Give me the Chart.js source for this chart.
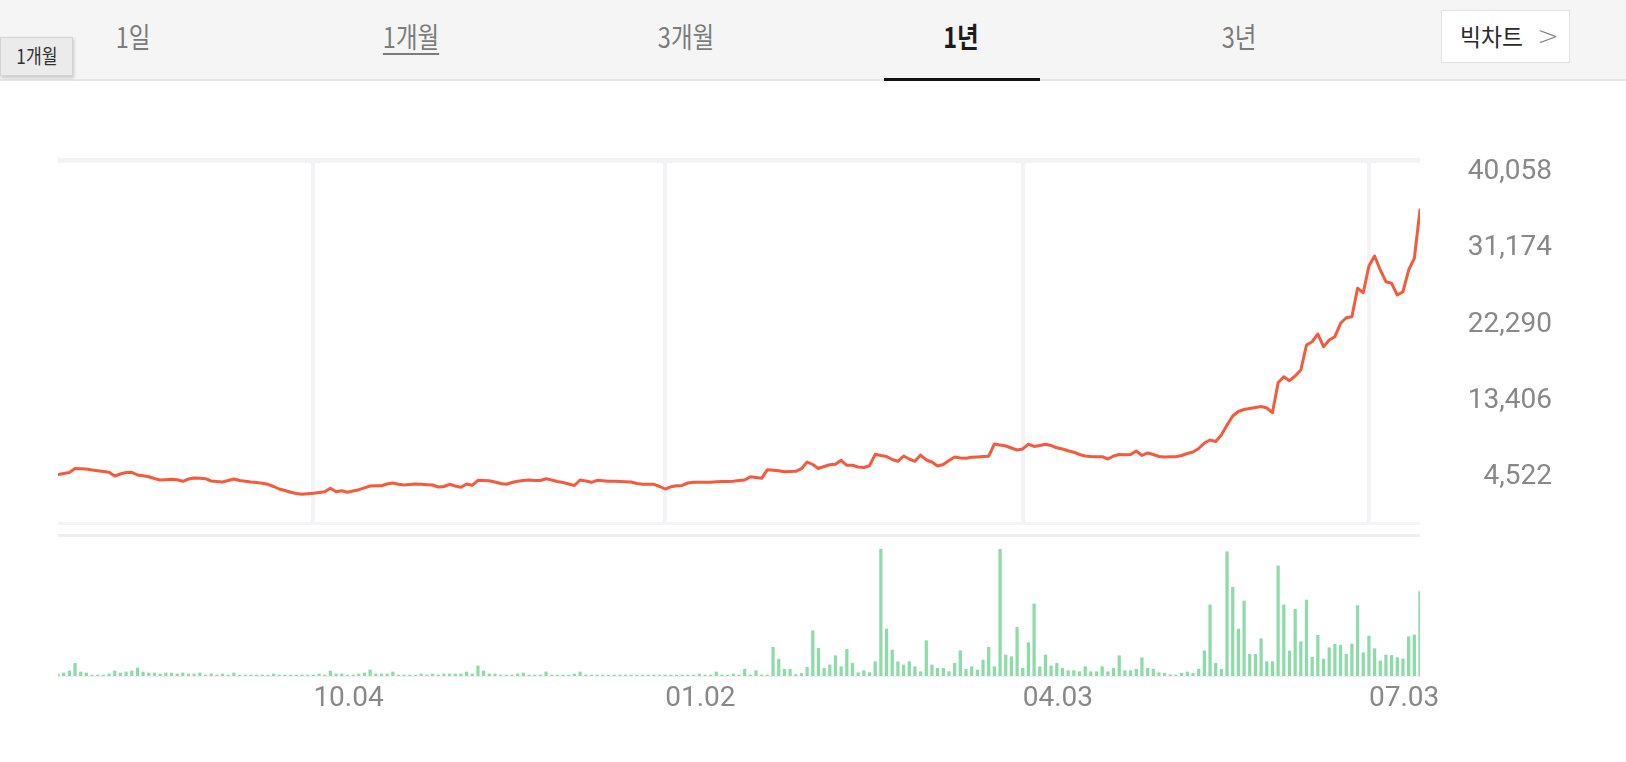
<!DOCTYPE html>
<html><head><meta charset="utf-8">
<script src="https://cdn.jsdelivr.net/npm/chart.js@4.4.1/dist/chart.umd.min.js"></script>
<style>
html,body{margin:0;padding:0;background:#fff;width:1626px;height:762px;overflow:hidden;font-family:'Noto Sans CJK KR','Noto Sans',sans-serif;}
#tabs{position:absolute;left:0;top:0;width:1626px;height:79px;background:#f5f5f5;border-bottom:2px solid #e6e6e6;}
.tab{position:absolute;top:14px;transform:translateX(-50%);font-size:28px;color:#7b7b7b;white-space:nowrap;line-height:44px;}
.tab span{display:inline-block;transform:scaleX(.84);}
.tab.u span{text-decoration:underline;text-underline-offset:5px;text-decoration-thickness:2px;}
.tab.on{color:#1c1c1c;font-weight:700;}
#bar{position:absolute;left:884px;top:78px;width:156px;height:3px;background:#111;}
#big{position:absolute;left:1441px;top:10px;width:129px;height:53px;background:#fff;border:1px solid #e2e2e2;box-sizing:border-box;}
#big .t{position:absolute;left:18px;top:6px;font-size:24px;line-height:38px;color:#2a2a2a;transform:scaleX(.95);transform-origin:left center;}
#big .c{position:absolute;left:95px;top:6px;font-size:26px;line-height:38px;color:#888;font-family:'DejaVu Sans',sans-serif;font-weight:300;}
#tip{position:absolute;left:0;top:37px;width:73px;height:39px;background:#ebebeb;border:1px solid #d3d3d3;box-sizing:border-box;box-shadow:1px 2px 3px rgba(0,0,0,.18);text-align:center;font-size:20px;line-height:36px;color:#333;}
#tip span{display:inline-block;transform:scaleX(.86);}
.ln{position:absolute;left:58px;width:1362px;}
canvas{position:absolute;left:0;}
</style>
</head><body>
<div id="tabs">
  <div class="tab" style="left:133px"><span>1일</span></div>
  <div class="tab u" style="left:411px"><span>1개월</span></div>
  <div class="tab" style="left:686px"><span>3개월</span></div>
  <div class="tab on" style="left:961px"><span>1년</span></div>
  <div class="tab" style="left:1239px"><span>3년</span></div>
  <div id="big"><div class="t">빅차트</div><div class="c">&gt;</div></div>
</div>
<div id="bar"></div>
<div id="tip"><span>1개월</span></div>
<div class="ln" style="top:158px;height:5px;background:#f3f3f5"></div>
<div class="ln" style="top:522px;height:3px;background:#f4f4f6"></div>
<div class="ln" style="top:534px;height:3px;background:#efeff1"></div>
<canvas id="price" width="1626" height="380" style="top:150px"></canvas>
<canvas id="vol" width="1626" height="200" style="top:530px"></canvas>
<script>
const xTickPositions = [45, 107, 170, 231];
const xTickLabels = ['10.04', '01.02', '04.03', '07.03'];
const yTickValues = [4522, 13406, 22290, 31174, 40058];

const price = [
4779,4896,5012,5479,5456,5421,5304,5222,5129,5036,
4604,4837,5012,5036,4720,4627,4522,4312,4137,4172,
4219,4160,3985,4253,4370,4335,4288,4020,3961,3903,
4078,4253,4078,3985,3903,3845,3751,3635,3378,3086,
2911,2701,2561,2467,2526,2584,2677,2759,3168,2771,
2888,2701,2853,3004,3226,3436,3460,3471,3670,3787,
3635,3553,3611,3670,3635,3588,3553,3320,3378,3635,
3436,3285,3670,3518,4102,4078,4055,3903,3728,3635,
3845,3985,4078,4137,4078,4078,4277,4137,3961,3845,
3670,3495,4137,4020,3868,4102,4043,3997,3985,3961,
3926,3903,3728,3635,3635,3635,3378,3086,3343,3471,
3506,3787,3868,3868,3868,3868,3926,3950,3973,3997,
4067,4137,4522,4429,4335,5339,5280,5222,5105,5129,
5152,5456,6238,5946,5479,5713,5911,5970,6437,5853,
5853,5654,5596,5806,7137,6997,6880,6530,6320,6938,
6588,6320,7055,6472,6238,5771,5946,6413,6822,6705,
6670,6787,6822,6869,6915,8339,8223,8106,7872,7639,
7756,8339,8048,8164,8316,8164,7896,7756,7557,7382,
7114,6938,6880,6857,6857,6588,6938,7114,7078,7114,
7522,6997,7289,7114,6880,6822,6845,6857,6997,7230,
7405,7814,8456,8806,8631,9390,10557,11608,12133,12367,
12484,12600,12717,12542,11993,15495,16196,15729,16278,16978,
19897,20282,21181,19698,20480,20866,22430,23084,23200,26515,
26002,29119,30286,28656,27286,27100,25734,26119,28652,30018,
35656
];

const volume = [
20,30,50,127,40,30,10,10,10,20,
50,30,40,50,80,40,30,30,20,30,
30,20,30,20,20,30,10,20,10,20,
10,30,10,10,10,10,10,10,20,10,
10,10,10,10,10,10,20,10,50,20,
20,10,10,20,30,60,20,20,20,40,
10,10,10,10,20,10,20,10,20,20,
20,20,40,20,100,50,20,20,10,10,
10,20,30,10,10,10,40,10,10,10,
10,20,40,10,10,10,10,10,10,10,
10,10,10,10,10,10,10,10,10,10,
10,10,10,20,10,10,40,10,10,20,
10,67,10,53,10,10,287,167,67,67,
15,27,87,453,277,77,110,203,93,267,
127,33,53,33,143,1267,470,260,143,110,
143,93,43,353,110,77,77,43,127,253,
67,93,60,160,287,93,1267,210,193,487,
77,333,720,93,210,100,127,77,53,53,
43,93,43,43,93,43,77,203,53,53,
67,183,77,67,33,27,13,10,27,40,
27,67,250,710,127,67,1243,887,470,750,
217,217,373,143,143,1100,710,250,667,343,
760,187,407,167,283,317,307,217,320,703,
233,400,273,150,210,207,183,170,393,410,
843
];

function build() {
  const mctx = document.createElement('canvas').getContext('2d');
  mctx.font = '28px Roboto';
  const widest = Math.max(...yTickValues.map(v => mctx.measureText(v.toLocaleString('en-US')).width));
  const yPad = 132 - widest;

  new Chart(document.getElementById('price'), {
    type: 'line',
    data: { datasets: [{
      data: price.map((v, i) => ({ x: i, y: v })),
      borderColor: '#f45a3b', borderWidth: 3, pointRadius: 0, tension: 0,
      borderJoinStyle: 'round', borderCapStyle: 'round'
    }] },
    options: {
      responsive: false, animation: false, events: [],
      layout: { padding: { left: 58, right: 74, top: 13, bottom: 6 } },
      plugins: { legend: { display: false }, tooltip: { enabled: false } },
      scales: {
        x: {
          type: 'linear', min: 0, max: 240,
          afterBuildTicks: s => { s.ticks = xTickPositions.map(v => ({ value: v })); },
          afterFit: s => { s.height = 0; s.paddingLeft = 0; s.paddingRight = 0; },
          ticks: { display: false },
          grid: { color: '#f3f3f5', lineWidth: 4, drawTicks: false },
          border: { display: false }
        },
        y: {
          position: 'right', min: -1000, max: 41144,
          afterBuildTicks: s => { s.ticks = yTickValues.map(v => ({ value: v })); },
          afterFit: s => { s.width = 132; s.paddingTop = 0; s.paddingBottom = 0; },
          grid: { display: false }, border: { display: false },
          ticks: {
            crossAlign: 'far', padding: yPad, color: '#888',
            font: { family: 'Roboto', size: 28 },
            callback: v => Number(v).toLocaleString('en-US')
          }
        }
      }
    }
  });

  new Chart(document.getElementById('vol'), {
    type: 'bar',
    data: { datasets: [{
      data: volume.map((v, i) => ({ x: i, y: v })),
      backgroundColor: '#8ddba9', barThickness: 2.6, borderWidth: 0
    }] },
    options: {
      responsive: false, animation: false, events: [],
      layout: { padding: { left: 58, right: 206, top: 6, bottom: 0 } },
      plugins: { legend: { display: false }, tooltip: { enabled: false } },
      scales: {
        x: {
          type: 'linear', min: 0, max: 240, offset: false,
          afterBuildTicks: s => { s.ticks = xTickPositions.map(v => ({ value: v })); },
          afterFit: s => { s.height = 54; s.paddingLeft = 0; s.paddingRight = 0; },
          grid: { display: false, drawTicks: false },
          border: { display: true, color: '#f0f0f0', width: 1 },
          ticks: {
            align: 'start', padding: 6, autoSkip: false, maxRotation: 0, minRotation: 0,
            color: '#888', font: { family: 'Roboto', size: 28 },
            callback: v => xTickLabels[xTickPositions.indexOf(v)]
          }
        },
        y: { display: false, min: 0, max: 1400 }
      }
    }
  });
}

if (document.fonts && document.fonts.load) {
  document.fonts.load('28px Roboto').then(build, build);
} else { build(); }
</script>
</body></html>
